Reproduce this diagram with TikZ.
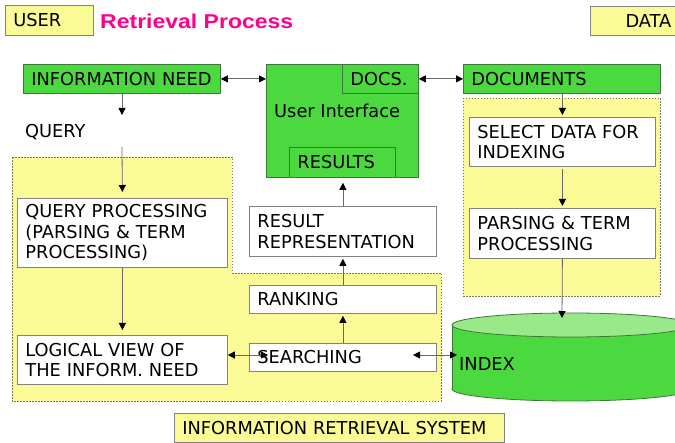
\documentclass[tikz,border=0pt]{standalone}
\usepackage{fontspec}
\setmainfont{DejaVu Sans}
\newfontfamily\titlefont[FakeStretch=1.15]{Liberation Sans}
\usetikzlibrary{arrows.meta}
\definecolor{ylw}{RGB}{250,250,150}
\definecolor{grn}{RGB}{76,217,63}
\definecolor{lgrn}{RGB}{153,232,137}
\definecolor{grb}{RGB}{60,120,55}
\definecolor{pnk}{RGB}{255,0,140}
\definecolor{bdr}{RGB}{130,130,130}
\definecolor{regb}{RGB}{120,120,90}
\newcommand{\mfont}{\fontsize{17.8}{20.5}\selectfont}
\begin{document}
\begin{tikzpicture}[x=1pt,y=-1pt,
  base/.style={rectangle, anchor=north west, align=left, inner xsep=8pt, inner ysep=0pt, font=\mfont, line width=0.8pt},
  sz/.style n args={3}{minimum width=#1pt, minimum height=#2pt, text width=#3pt},
  gbox/.style={base, draw=grb, fill=grn},
  wbox/.style={base, draw=bdr, fill=white},
  ybox/.style={base, draw=bdr, fill=ylw},
  yreg/.style={fill=ylw, draw=regb, line width=0.7pt, dash pattern=on 1.5pt off 1.5pt},
  arr/.style={draw=bdr!80!black, line width=0.8pt, -{Triangle[length=7pt,width=7pt,color=black]}},
  darr/.style={draw=bdr!80!black, line width=0.8pt, {Triangle[length=7pt,width=7pt,color=black]}-{Triangle[length=7pt,width=7pt,color=black]}},
  lbl/.style={anchor=base west, inner sep=0pt, font=\mfont}]
\useasboundingbox (0,0) rectangle (675,443);
\fill[white] (0,0) rectangle (675,443);

% header
\node[ybox, sz={88}{30}{72}] (user) at (5,5) {USER};
\node[anchor=base west, inner sep=0pt, text=pnk, font=\titlefont\bfseries\fontsize{20}{24}\selectfont] (title) at (100,29) {Retrieval Process};
\node[ybox, sz={100}{29}{62}, inner xsep=19pt, align=right] (data) at (590,6) {DATA};

% regions
\draw[yreg] (12,157) -- (232,157) -- (232,273) -- (441,273) -- (441,401) -- (12,401) -- cycle;
\draw[yreg] (463,98) rectangle (660,296);

% green boxes
\node[gbox, sz={197}{29}{181}] (in) at (23,64) {INFORMATION NEED};
\node[gbox, sz={152}{113}{136}] (ui) at (266,64) {};
\node[gbox, sz={76}{29}{60}] (docs) at (342,64) {DOCS.};
\node[gbox, sz={106}{30}{90}] (res) at (289,147) {RESULTS};
\node[lbl] (uit) at (274,118) {User Interface};
\node[gbox, sz={197}{29}{181}] (doc) at (463,64) {DOCUMENTS};

% query
\node[lbl] (query) at (25,138) {QUERY};

% white boxes
\node[wbox, sz={210}{69}{194}] (qp) at (17,198) {QUERY PROCESSING\\(PARSING \& TERM\\PROCESSING)};
\node[wbox, sz={210}{49}{194}] (lv) at (17,335) {LOGICAL VIEW OF\\THE INFORM. NEED};
\node[wbox, sz={187}{50}{171}] (rr) at (249,206) {RESULT\\REPRESENTATION};
\node[wbox, sz={187}{28}{171}] (rk) at (249,285) {RANKING};
\node[wbox, sz={187}{28}{171}] (se) at (249,343) {SEARCHING};
\node[wbox, sz={186}{49}{170}] (sel) at (469,117) {SELECT DATA FOR\\INDEXING};
\node[wbox, sz={186}{50}{170}] (pt) at (469,208) {PARSING \& TERM\\PROCESSING};

% bottom label
\node[ybox, sz={330}{29}{314}] (irs) at (174,413) {INFORMATION RETRIEVAL SYSTEM};

% index cylinder
\draw[fill=grn, draw=grb, line width=0.8pt] (571,389) ellipse [x radius=119pt, y radius=12pt];
\fill[grn] (452,325) rectangle (690,389);
\draw[grb, line width=0.8pt] (452,325) -- (452,389);
\draw[fill=lgrn, draw=grb, line width=0.8pt] (571,325) ellipse [x radius=119pt, y radius=12pt];
\node[lbl] (idx) at (459,371) {INDEX};

% coordinates
\coordinate (qa) at (122,115);
\coordinate (qb) at (122,147);
\coordinate (s1) at (268,355);
\coordinate (s2) at (413,355);
\coordinate (ix) at (457,355);
\coordinate (itop) at (562,318);

% connectors
\draw[darr] (in.east) -- (ui.west |- in.east);
\draw[darr] (docs.east) -- (doc.west);
\draw[arr] (in.south -| qa) -- (qa);
\draw[arr, shorten >=6pt] (qb) -- (qp.north);
\draw[arr, shorten >=5pt] (qp.south) -- (lv.north);
\draw[darr] (lv.east |- s1) -- (s1);
\draw[darr] (s2) -- (ix);
\draw[arr, shorten >=2pt] (se.north) -- (rk.south);
\draw[arr, shorten >=2pt] (rk.north) -- (rr.south);
\draw[arr, shorten >=5pt] (rr.north) -- (ui.south -| rr.north);
\draw[arr, shorten >=2pt] (doc.south -| sel.north) -- (sel.north);
\draw[arr, shorten >=2pt, shorten <=2pt] (sel.south) -- (pt.north);
\draw[arr] (pt.south) -- (itop);
\end{tikzpicture}
\end{document}
